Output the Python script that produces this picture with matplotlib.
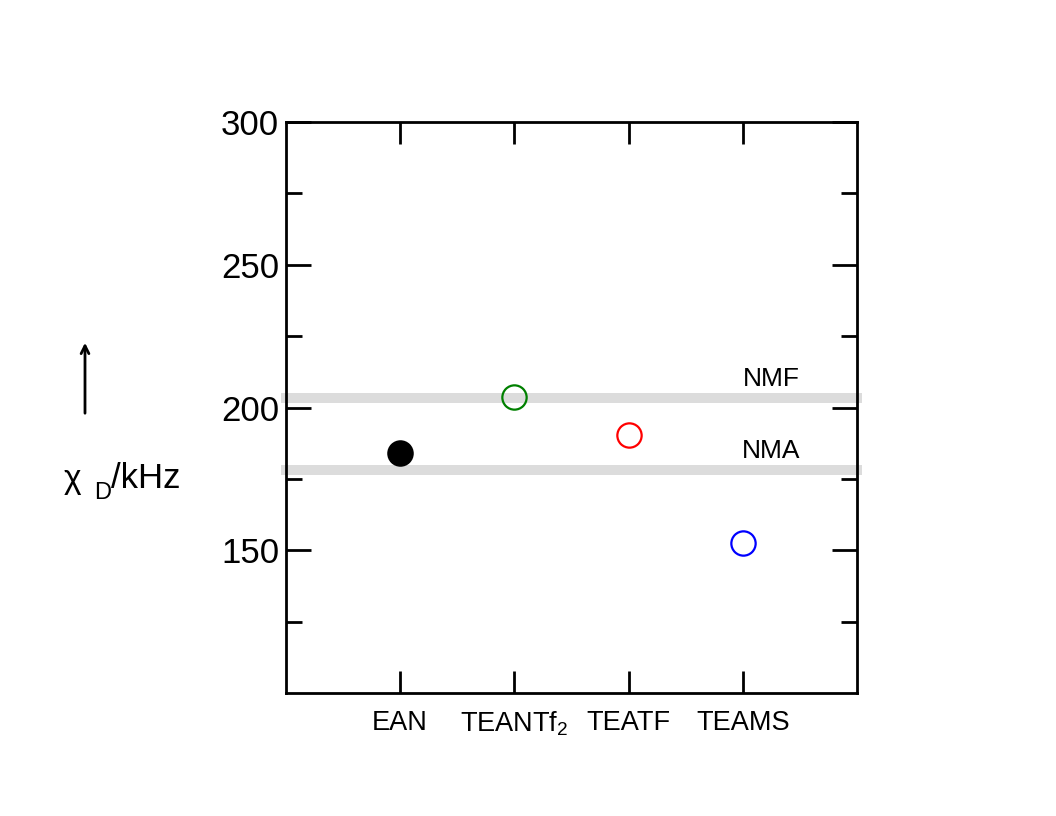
import matplotlib.pyplot as plt
import numpy as np

plt.rcParams['font.family'] = ['Liberation Sans', 'DejaVu Sans']
plt.rcParams['mathtext.fontset'] = 'custom'
plt.rcParams['mathtext.rm'] = 'Liberation Sans'
plt.rcParams['mathtext.it'] = 'Liberation Sans'

# data
liquids = ['EAN', 'TEANTf$_2$', 'TEATF', 'TEAMS']
chi_d = [183.9, 203.8, 190.4, 152.4]          # kHz
marker_colors = ['black', 'green', 'red', 'blue']
filled = [True, False, False, False]
ref_names = ['NMF', 'NMA']
ref_values = [203.4, 178.1]

fig = plt.figure(figsize=(10.56, 8.16), dpi=100)
ax = fig.add_axes([0.2708, 0.1507, 0.5407, 0.6998])

# reference liquids as grey bands
for name, val in zip(ref_names, ref_values):
    ax.axhline(val, xmin=-0.009, xmax=1.009, color='#dcdcdc', lw=7.2,
               zorder=1, clip_on=False, solid_capstyle='butt')
    ax.text(4.25, val + 4.2, name, ha='center', va='baseline', fontsize=19)

xpos = np.arange(1, len(liquids) + 1)
for x, y, c, f in zip(xpos, chi_d, marker_colors, filled):
    ax.plot(x, y, 'o', ms=17.5, mec=c, mfc=c if f else 'none', mew=1.6, zorder=3)

ax.set_xlim(0, 5)
ax.set_ylim(100, 300)
ax.set_xticks(xpos)
ax.set_xticklabels(liquids, fontsize=19.5)
ax.set_yticks([150, 200, 250, 300])
ax.set_yticks([125, 175, 225, 275], minor=True)
ax.tick_params(axis='y', labelsize=25)

ax.tick_params(which='major', direction='in', width=2, top=True, right=True)
ax.tick_params(which='minor', direction='in', width=2, top=True, right=True)
ax.tick_params(axis='x', which='major', length=15.5, pad=12)
ax.tick_params(axis='y', which='major', length=18, pad=5)
ax.tick_params(axis='y', which='minor', length=11.5)
for sp in ax.spines.values():
    sp.set_linewidth(2)

# y label with arrow, placed in figure pixels
W, H = 1056, 816
ax.annotate('', xy=(85 / W, 1 - 340 / H), xytext=(85 / W, 1 - 416 / H),
            xycoords='figure fraction', textcoords='figure fraction',
            arrowprops=dict(arrowstyle='->', lw=2, color='black', mutation_scale=14))
fig.text(64 / W, 1 - 488 / H, 'χ', fontsize=24, ha='left', va='baseline')
fig.text(94 / W, 1 - 499 / H, 'D', fontsize=17, ha='left', va='baseline')
fig.text(111 / W, 1 - 488 / H, '/kHz', fontsize=25, ha='left', va='baseline')

fig.savefig('out.png', dpi=100)
